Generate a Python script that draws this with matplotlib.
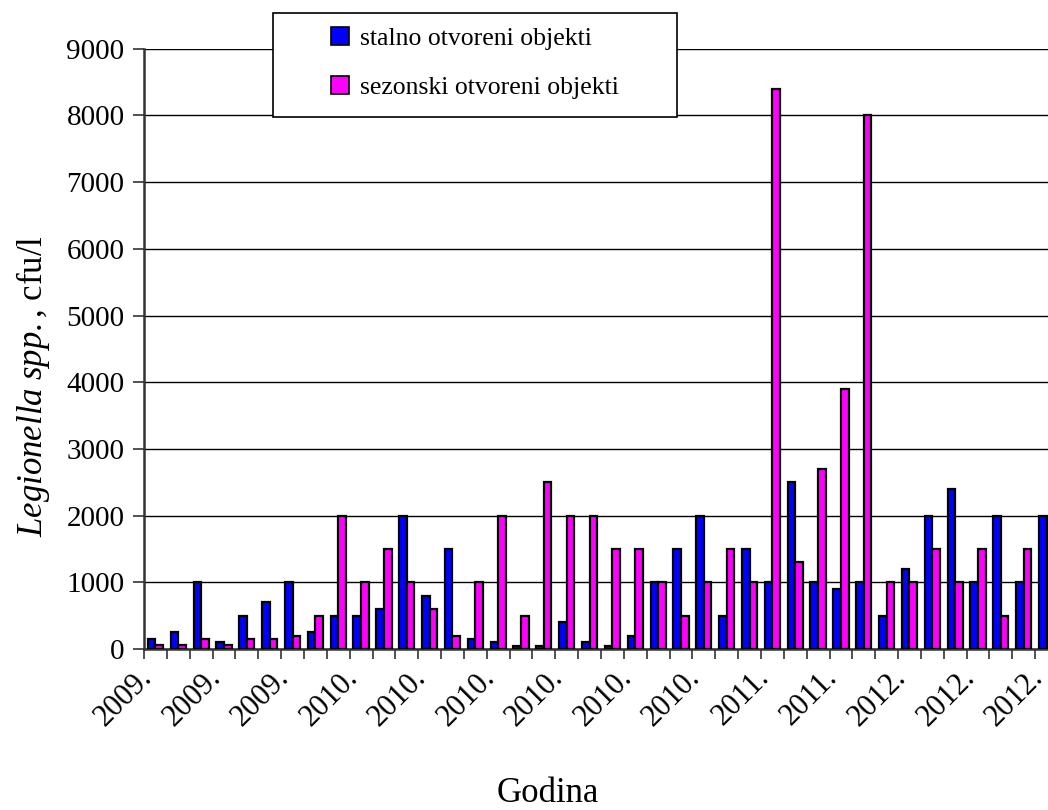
import numpy as np
import matplotlib
matplotlib.use('Agg')
import matplotlib.pyplot as plt
import matplotlib.transforms as mtransforms
from matplotlib.patches import Rectangle, Patch

plt.rcParams['font.family'] = ['Liberation Serif', 'DejaVu Serif']
plt.rcParams['mathtext.fontset'] = 'custom'
plt.rcParams['mathtext.rm'] = 'Liberation Serif'
plt.rcParams['mathtext.it'] = 'Liberation Serif:italic'

# values per sampling (40 groups)
stalno = [150, 250, 1000, 100, 500, 700, 1000, 250, 500, 500,
          600, 2000, 800, 1500, 150, 100, 50, 50, 400, 100,
          50, 200, 1000, 1500, 2000, 500, 1500, 1000, 2500, 1000,
          900, 1000, 500, 1200, 2000, 2400, 1000, 2000, 1000, 2000]
sezonski = [60, 60, 150, 60, 150, 150, 200, 500, 2000, 1000,
            1500, 1000, 600, 200, 1000, 2000, 500, 2500, 2000, 2000,
            1500, 1500, 1000, 500, 1000, 1500, 1000, 8400, 1300, 2700,
            3900, 8000, 1000, 1000, 1500, 1000, 1500, 500, 1500, 1000]
tick_labels = ['2009.', '2009.', '2009.', '2010.', '2010.', '2010.', '2010.',
               '2010.', '2010.', '2011.', '2011.', '2012.', '2012.', '2012.']
legend_labels = ['stalno otvoreni objekti', 'sezonski otvoreni objekti']
blue = '#0000FF'
pink = '#FF00FF'

fig = plt.figure(figsize=(10.48, 8.10), dpi=100)
# plot area runs past the right edge, like the cropped original
ax = fig.add_axes([144/1048, 1 - 649/810, 914/1048, 600.3/810])

n = len(stalno)
x = np.arange(n) + 0.5
w = 1/3
ax.bar(x - w/2, stalno, w, color=blue, edgecolor='black', linewidth=1.6, zorder=3)
ax.bar(x + w/2, sezonski, w, color=pink, edgecolor='black', linewidth=1.6, zorder=3)

ax.set_xlim(0, n)
ax.set_ylim(0, 9000)
ax.set_yticks(np.arange(0, 9001, 1000))
ax.yaxis.grid(True, color='black', linewidth=1.0, zorder=0)
ax.set_axisbelow(True)

for s in ['top', 'right']:
    ax.spines[s].set_visible(False)
ax.spines['left'].set_color('#333333')
ax.spines['left'].set_linewidth(1.8)
ax.spines['bottom'].set_color('#333333')
ax.spines['bottom'].set_linewidth(1.8)

ax.tick_params(axis='y', direction='out', length=8, width=1.2, color='#333333',
               labelsize=21, pad=6)
ax.set_xticks(np.arange(0, n + 1), minor=True)
ax.set_xticks(x[::3])
ax.set_xticklabels(tick_labels, rotation=45, ha='right', rotation_mode='anchor',
                   fontsize=22)
ax.tick_params(axis='x', which='major', length=0, pad=10)
ax.tick_params(axis='x', which='minor', direction='out', length=7, width=1.2,
               color='#333333')
# nudge the year labels left, as in the original
shift = mtransforms.ScaledTranslation(-18/100, 0, fig.dpi_scale_trans)
for lbl in ax.get_xticklabels():
    lbl.set_transform(lbl.get_transform() + shift)

fig.text(33/1048, 1 - 386/810, r'$\mathit{Legionella\ spp.}$, cfu/l',
         rotation=90, ha='center', va='center', fontsize=25)
fig.text(548/1048, 1 - 794/810, 'Godina', ha='center', va='center', fontsize=25)

# legend box
box = Rectangle((273/1048, 1 - 117/810), 404/1048, 104/810,
                transform=fig.transFigure, facecolor='white', edgecolor='black',
                linewidth=1.2, zorder=5)
fig.patches.append(box)
handles = [Patch(facecolor=blue, edgecolor='black', linewidth=1.2),
           Patch(facecolor=pink, edgecolor='black', linewidth=1.2)]
leg = fig.legend(handles, legend_labels, loc='center',
                 bbox_to_anchor=(475/1048, 1 - 63/810), frameon=False,
                 fontsize=18.5, handlelength=0.7, handleheight=0.7,
                 handletextpad=0.4, labelspacing=1.0)
leg.set_zorder(6)

fig.savefig('out.png', dpi=100)
